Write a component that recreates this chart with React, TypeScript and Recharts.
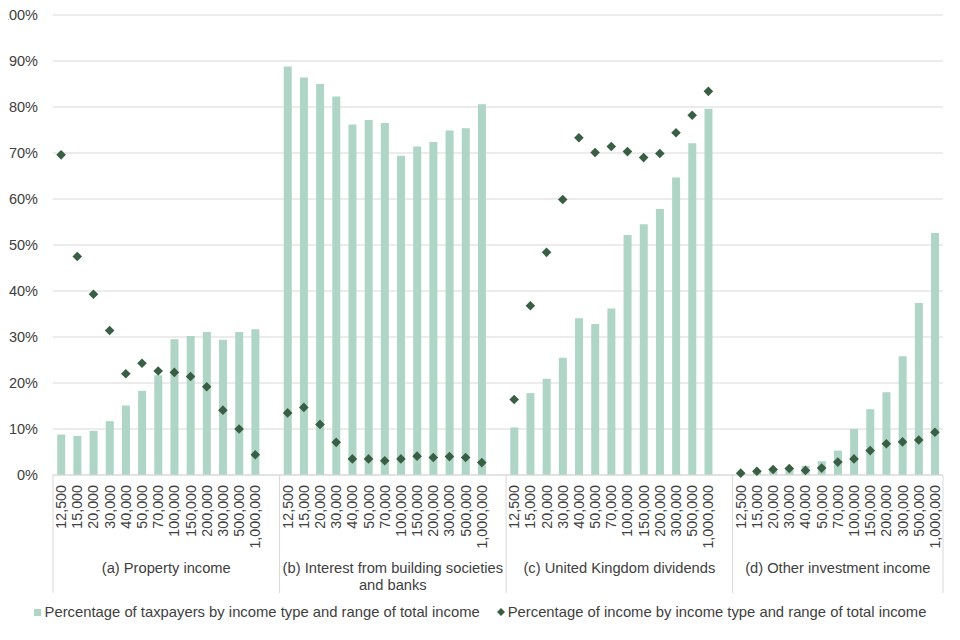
import { ComposedChart, Bar, Scatter, XAxis, YAxis, CartesianGrid } from "recharts";

const incomeRanges = [
  "12,500", "15,000", "20,000", "30,000", "40,000", "50,000", "70,000",
  "100,000", "150,000", "200,000", "300,000", "500,000", "1,000,000",
];

// group labels, already split into the lines they are drawn on
const incomeTypes = [
  ["(a) Property income"],
  ["(b) Interest from building societies", "and banks"],
  ["(c) United Kingdom dividends"],
  ["(d) Other investment income"],
];

const taxpayersProperty = [8.8, 8.5, 9.6, 11.7, 15.1, 18.3, 21.7, 29.5, 30.2, 31.1, 29.4, 31.1, 31.7];
const incomeProperty = [69.6, 47.5, 39.3, 31.4, 22.0, 24.3, 22.6, 22.3, 21.4, 19.2, 14.1, 10.0, 4.4];
const taxpayersInterest = [88.8, 86.4, 85.0, 82.3, 76.2, 77.2, 76.5, 69.4, 71.4, 72.4, 74.9, 75.4, 80.6];
const incomeInterest = [13.5, 14.7, 11.0, 7.1, 3.5, 3.5, 3.1, 3.5, 4.1, 3.8, 4.0, 3.8, 2.7];
const taxpayersDividends = [10.3, 17.8, 20.9, 25.5, 34.1, 32.8, 36.2, 52.2, 54.5, 57.8, 64.7, 72.1, 79.6];
const incomeDividends = [16.4, 36.8, 48.4, 59.9, 73.3, 70.1, 71.4, 70.3, 69.0, 69.9, 74.4, 78.2, 83.4];
const taxpayersOther = [0.3, 0.9, 1.4, 1.6, 2.0, 3.0, 5.3, 10.0, 14.3, 18.0, 25.8, 37.4, 52.6];
const incomeOther = [0.4, 0.8, 1.2, 1.4, 1.0, 1.5, 2.8, 3.5, 5.3, 6.8, 7.2, 7.6, 9.3];

const yTicks = [0, 10, 20, 30, 40, 50, 60, 70, 80, 90, 100];

const taxpayerSeries = [taxpayersProperty, taxpayersInterest, taxpayersDividends, taxpayersOther];
const incomeSeries = [incomeProperty, incomeInterest, incomeDividends, incomeOther];

const BAR_COLOR = "#afd5c6";
const DOT_COLOR = "#3a5e44";
const TEXT = "#404040";
const GRID = "#d9d9d9";
const FONT = "'Liberation Sans', Arial, sans-serif";

// one row per bar, plus an empty slot between groups (like the Excel original)
type Row = { key: string; range: string; taxpayers: number | null; income: number | null; gi: number; pos: number };
const rows: Row[] = [];
incomeTypes.forEach((_, gi) => {
  incomeRanges.forEach((range, i) => {
    rows.push({ key: `${gi}-${i}`, range, taxpayers: taxpayerSeries[gi][i], income: incomeSeries[gi][i], gi, pos: i });
  });
  if (gi < incomeTypes.length - 1) {
    rows.push({ key: `${gi}-gap`, range: "", taxpayers: null, income: null, gi, pos: -1 });
  }
});

function RangeTick(props: any) {
  const { x, y, payload } = props;
  const row = rows[payload.index];
  if (!row) return null;
  const band = payload.offset ? payload.offset * 2 : 890 / rows.length;
  const parts: any[] = [];
  if (row.pos >= 0) {
    parts.push(
      <text key="t" x={x} y={y + 10} dy="0.35em" textAnchor="end" transform={`rotate(-90, ${x}, ${y + 10})`}
        fill={TEXT} fontSize={14.3} fontFamily={FONT}>{row.range}</text>
    );
  }
  if (row.pos === 0) {
    const slots = row.gi < incomeTypes.length - 1 ? incomeRanges.length + 1 : incomeRanges.length;
    const left = x - band / 2;
    const cx = left + (slots * band) / 2;
    parts.push(<line key="d" x1={left} x2={left} y1={y} y2={y + 118} stroke={GRID} />);
    incomeTypes[row.gi].forEach((line, li) => {
      parts.push(
        <text key={`g${li}`} x={cx} y={y + 98 + li * 17} textAnchor="middle" fill={TEXT} fontSize={14.7} fontFamily={FONT}>{line}</text>
      );
    });
  }
  if (row.gi === incomeTypes.length - 1 && row.pos === incomeRanges.length - 1) {
    const right = x + band / 2;
    parts.push(<line key="r" x1={right} x2={right} y1={y} y2={y + 118} stroke={GRID} />);
  }
  return <g>{parts}</g>;
}

function Diamond(props: any) {
  const { cx, cy, payload } = props;
  if (payload == null || payload.income == null || !isFinite(cy)) return null;
  const r = 4.8;
  return <path d={`M${cx},${cy - r}L${cx + r},${cy}L${cx},${cy + r}L${cx - r},${cy}Z`} fill={DOT_COLOR} />;
}

export default function App() {
  return (
    <div style={{ position: "relative", width: 960, height: 640, margin: -8, fontFamily: FONT }}>
      <ComposedChart width={960} height={640} data={rows} margin={{ top: 15, right: 17, bottom: 0, left: 0 }} barCategoryGap="26%">
        <CartesianGrid vertical={false} stroke={GRID} />
        <XAxis dataKey="key" interval={0} tickLine={false} tickSize={0} tickMargin={0} height={165}
          axisLine={{ stroke: GRID }} tick={<RangeTick />} />
        <YAxis domain={[0, 100]} ticks={yTicks} tickFormatter={(v: number) => `${v}%`} width={53}
          axisLine={false} tickLine={false} tick={{ fill: TEXT, fontSize: 14.5, fontFamily: FONT, dx: -7 }} />
        <Bar dataKey="taxpayers" fill={BAR_COLOR} isAnimationActive={false} />
        <Scatter dataKey="income" fill={DOT_COLOR} shape={<Diamond />} isAnimationActive={false} />
      </ComposedChart>
      <div style={{ position: "absolute", top: 604, left: 0, width: 960, display: "flex", justifyContent: "center", gap: 17, fontSize: 14.8, color: TEXT }}>
        <div style={{ display: "flex", alignItems: "center", gap: 4 }}>
          <span style={{ width: 7, height: 7, background: BAR_COLOR, display: "inline-block" }} />
          <span>Percentage of taxpayers by income type and range of total income</span>
        </div>
        <div style={{ display: "flex", alignItems: "center", gap: 3 }}>
          <svg width={8} height={8}><path d="M4,0L8,4L4,8L0,4Z" fill={DOT_COLOR} /></svg>
          <span>Percentage of income by income type and range of total income</span>
        </div>
      </div>
    </div>
  );
}
